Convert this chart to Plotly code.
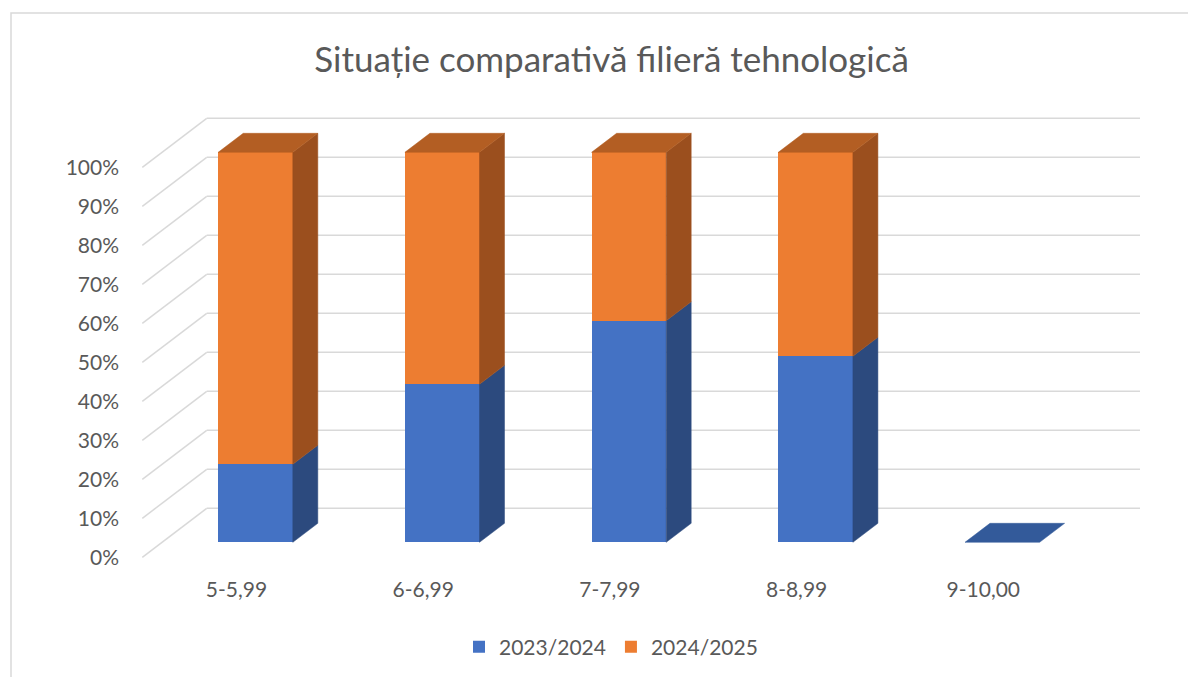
import plotly.graph_objects as go

# ---------------- data ----------------
categories = ["5-5,99", "6-6,99", "7-7,99", "8-8,99", "9-10,00"]
series_names = ["2023/2024", "2024/2025"]
values_2023_2024 = [20.0, 40.5, 56.8, 47.7, 0.0]
values_2024_2025 = [80.0, 59.5, 43.2, 52.3, 0.0]
y_tick_values = [0, 10, 20, 30, 40, 50, 60, 70, 80, 90, 100]
y_tick_labels = ["0%", "10%", "20%", "30%", "40%", "50%", "60%", "70%", "80%", "90%", "100%"]
title_text = "Situație comparativă filieră tehnologică"

series_values = [values_2023_2024, values_2024_2025]
front_colors = ["#4472C4", "#ED7D31"]
side_colors = ["#2C4A7E", "#9B4F1E"]
top_colors = ["#335A9A", "#B35E23"]

# ---------------- geometry (page pixels) ----------------
W, H = 1196, 677
OFF = 8                          # browser default body margin
FW, FH = W - OFF, H - OFF        # figure size
PL, PR, PT, PB = 130, 1150, 100, 575   # plot area in page pixels
X0PX, XSTEP = 255.5, 186.7      # centre of first category, category spacing
Y0PX, YPX = 542.3, 3.9          # bar-front 0% baseline, pixels per percent
BAR_W_PX = 74.6
DEPTH_X_PX, DEPTH_Y_PX = 25.0, 19.0        # bar depth
FLOOR_FRONT_LEFT_PX, FLOOR_FRONT_Y_PX = 142.3, 15.0   # floor front edge (x, below bar front)
FLOOR_BACK_LEFT_PX, FLOOR_BACK_Y_PX = 206.7, -34.0    # back wall (x, vs bar front)
LABEL_SHIFT_PX = -19.0                                # category labels vs bar centre
BACK_RIGHT_PX = 1140.0

dx = DEPTH_X_PX / XSTEP
dy = DEPTH_Y_PX / YPX
bw = BAR_W_PX / XSTEP
x_range = [(PL - X0PX) / XSTEP, (PR - X0PX) / XSTEP]
y_range = [(Y0PX - PB) / YPX, (Y0PX - PT) / YPX]

front_x = (FLOOR_FRONT_LEFT_PX - X0PX) / XSTEP
front_off_y = -FLOOR_FRONT_Y_PX / YPX
back_x = (FLOOR_BACK_LEFT_PX - X0PX) / XSTEP
back_off_y = -FLOOR_BACK_Y_PX / YPX
back_right = (BACK_RIGHT_PX - X0PX) / XSTEP


def px2paper_x(px):
    return (px - PL) / (PR - PL)


def px2paper_y(py):
    return (PB - py) / (PB - PT)


GRID = "#D9D9D9"
TEXT = "#595959"
FONT = "Lato"

fig = go.Figure()
xs = list(range(len(categories)))

# front faces
for s, name in enumerate(series_names):
    fig.add_trace(go.Bar(
        x=xs, y=series_values[s], width=bw, name=name,
        marker=dict(color=front_colors[s], line=dict(width=0)),
        hoverinfo="skip"))

# side faces
bases = [0.0] * len(categories)
for s in range(len(series_names)):
    px_, py_ = [], []
    for i in xs:
        v = series_values[s][i]
        b = bases[i]
        t = b + v
        if v > 0:
            xr_ = i + bw / 2
            px_ += [xr_, xr_ + dx, xr_ + dx, xr_, xr_, None]
            py_ += [b, b + dy, t + dy, t, b, None]
        bases[i] = t
    fig.add_trace(go.Scatter(x=px_, y=py_, mode="lines", fill="toself",
                             fillcolor=side_colors[s],
                             line=dict(color=side_colors[s], width=0.5),
                             showlegend=False, hoverinfo="skip"))

# top faces
tops_by_series = {s: ([], []) for s in range(len(series_names))}
for i in xs:
    total = sum(series_values[s][i] for s in range(len(series_names)))
    top_s = 0
    for s in range(len(series_names)):
        if series_values[s][i] > 0:
            top_s = s
    xl_, xr_ = i - bw / 2, i + bw / 2
    tx, ty = tops_by_series[top_s]
    tx += [xl_, xr_, xr_ + dx, xl_ + dx, xl_, None]
    ty += [total, total, total + dy, total + dy, total, None]
for s, (tx, ty) in tops_by_series.items():
    if tx:
        fig.add_trace(go.Scatter(x=tx, y=ty, mode="lines", fill="toself",
                                 fillcolor=top_colors[s],
                                 line=dict(color=top_colors[s], width=0.5),
                                 showlegend=False, hoverinfo="skip"))

# gridlines on back wall + floor diagonals
shapes = []
for v in y_tick_values:
    fy = v + front_off_y
    by = v + back_off_y
    shapes.append(dict(type="line", xref="x", yref="y", x0=front_x, y0=fy, x1=back_x, y1=by,
                       line=dict(color=GRID, width=1.5), layer="below"))
    shapes.append(dict(type="line", xref="x", yref="y", x0=back_x, y0=by, x1=back_right, y1=by,
                       line=dict(color=GRID, width=1.5), layer="below"))

# chart outer border (left and top visible)
shapes.append(dict(type="path", xref="paper", yref="paper",
                   path=f"M {px2paper_x(11)},{px2paper_y(H + 5)} L {px2paper_x(11)},{px2paper_y(13)} L {px2paper_x(W + 5)},{px2paper_y(13)}",
                   line=dict(color=GRID, width=1.5)))

fig.update_layout(
    width=FW, height=FH,
    margin=dict(l=PL - OFF, r=FW - (PR - OFF), t=PT - OFF, b=FH - (PB - OFF), autoexpand=False),
    paper_bgcolor="white", plot_bgcolor="white",
    barmode="stack",
    shapes=shapes,
    title=dict(text=title_text, x=(611.5 - OFF) / FW, xref="container", xanchor="center",
               y=1 - (60 - OFF) / FH, yref="container", yanchor="middle",
               font=dict(family=FONT, size=35, color=TEXT)),
    xaxis=dict(range=x_range, showgrid=False, zeroline=False, showline=False,
               tickmode="array",
               tickvals=[i + LABEL_SHIFT_PX / XSTEP for i in xs],
               ticktext=categories, ticks="",
               tickfont=dict(family=FONT, size=21, color=TEXT), fixedrange=True),
    yaxis=dict(range=y_range, showgrid=False, zeroline=False, showline=False,
               tickmode="array",
               tickvals=[v + front_off_y for v in y_tick_values],
               ticktext=y_tick_labels, ticks="", ticklabelstandoff=10,
               tickfont=dict(family=FONT, size=21, color=TEXT), fixedrange=True),
    legend=dict(orientation="h", x=px2paper_x(611), xanchor="center",
                y=px2paper_y(647), yanchor="middle",
                font=dict(family=FONT, size=21, color=TEXT),
                traceorder="normal", bgcolor="rgba(0,0,0,0)"),
    showlegend=True,
)

fig.write_html("out.html")
